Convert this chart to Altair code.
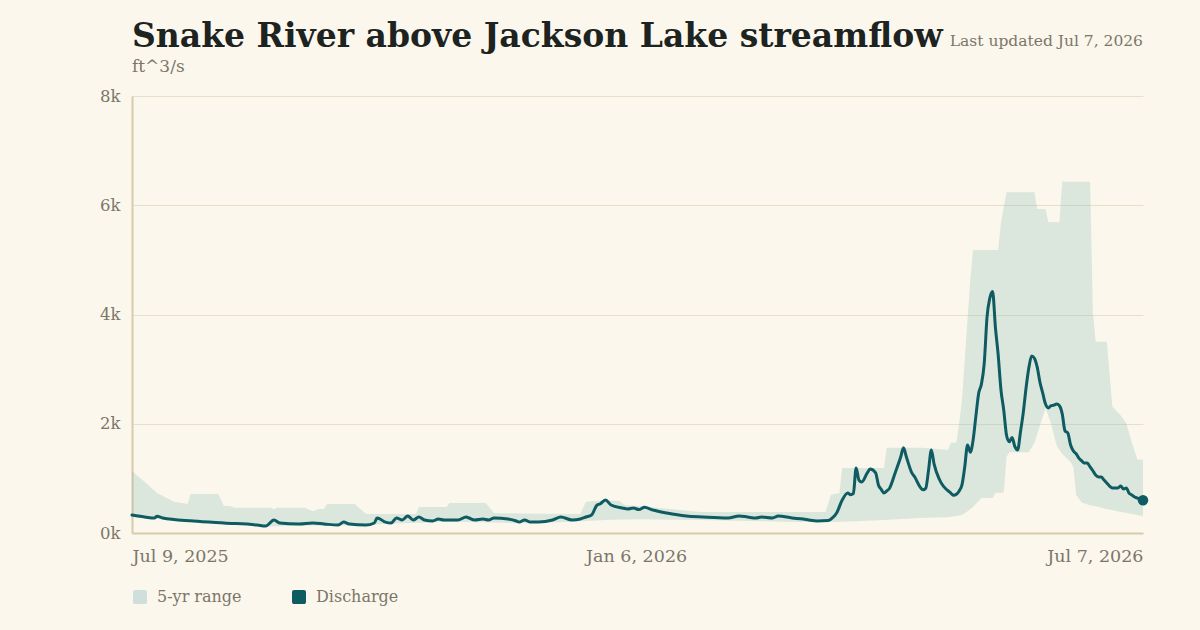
import altair as alt
import pandas as pd

START = pd.Timestamp("2025-07-09")

# Discharge (ft^3/s), keyed by days since the start of the window
flow_day = [
    0, 5, 8, 9, 11, 22, 33, 45, 48, 51, 53, 60, 65, 69, 74, 76, 78, 84, 87, 88,
    91, 93, 95, 97, 99, 101, 103, 105, 108, 110, 112, 117, 120, 121, 123, 126, 128, 130, 135, 138,
    139, 141, 143, 146, 151, 154, 158, 161, 163, 165, 167, 168, 170, 172, 176, 178, 180, 182, 184, 187,
    192, 199, 205, 214, 218, 221, 224, 226, 230, 232, 237, 241, 243, 246, 250, 251, 253, 255, 257, 258,
    259, 260, 261, 262, 264, 265, 267, 268, 269, 270, 271, 272, 274, 276, 277, 278, 280, 281, 283, 284,
    285, 286, 287, 288, 290, 294, 295, 296, 297, 298, 299, 300, 301, 302, 303, 304, 305, 306, 307, 308,
    309, 310, 311, 312, 313, 314, 315, 316, 317, 318, 319, 320, 321, 322, 323, 324, 325, 326, 327, 328,
    329, 330, 331, 332, 333, 334, 335, 336, 337, 338, 339, 340, 341, 342, 343, 344, 345, 346, 347, 348,
    349, 350, 351, 352, 353, 354, 355, 356, 357, 358, 359, 360, 361, 362, 363,
]
flow_cfs = [
    330, 290, 275, 305, 275, 220, 183, 146, 128, 238, 183, 165, 183, 165, 146, 200, 165, 146, 183, 275,
    200, 183, 275, 238, 311, 238, 293, 238, 220, 256, 238, 238, 293, 275, 238, 256, 238, 275, 256, 220,
    200, 238, 200, 200, 238, 293, 238, 256, 293, 330, 513, 531, 604, 513, 458, 440, 458, 430, 470, 421,
    366, 311, 293, 275, 311, 293, 275, 293, 275, 311, 275, 256, 238, 220, 229, 256, 366, 604, 732, 700,
    720, 1190, 970, 935, 1100, 1170, 1100, 880, 800, 732, 770, 820, 1100, 1390, 1560, 1400, 1100, 1030, 840, 790,
    820, 1150, 1520, 1260, 970, 732, 690, 710, 770, 880, 1210, 1610, 1480, 1700, 2140, 2560, 2730, 3110, 3955, 4300,
    4420, 3770, 3260, 2620, 2250, 1790, 1670, 1750, 1580, 1520, 1850, 2200, 2650, 3020, 3240, 3200, 3040, 2760, 2560, 2360,
    2290, 2330, 2340, 2360, 2330, 2180, 1870, 1830, 1610, 1500, 1450, 1370, 1320, 1280, 1280, 1210, 1140, 1060, 1025, 1025,
    970, 915, 860, 825, 825, 825, 860, 805, 825, 730, 695, 660, 640, 620, 600,
]

# Five-year range envelope (min / max), keyed the same way
band_day = [
    0, 5, 9, 15, 20, 21, 31, 33, 35, 37, 48, 50, 51, 52, 62, 65, 67, 69, 70, 80,
    84, 90, 102, 103, 110, 113, 114, 127, 130, 139, 146, 161, 163, 170, 175, 177, 182, 204, 240, 249,
    251, 254, 255, 270, 271, 283, 285, 293, 294, 296, 297, 298, 300, 301, 302, 305, 309, 310, 311, 312,
    313, 314, 315, 322, 324, 325, 328, 329, 330, 332, 333, 334, 337, 338, 339, 341, 344, 345, 346, 350,
    352, 355, 357, 359, 361, 363,
]
band_hi = [
    1135, 915, 730, 570, 530, 715, 715, 495, 495, 460, 460, 460, 430, 460, 460, 400, 440, 440, 530, 530,
    350, 350, 350, 475, 475, 475, 550, 550, 365, 355, 352, 350, 570, 600, 585, 510, 495, 385, 385, 385,
    700, 730, 1190, 1190, 1560, 1560, 1555, 1520, 1650, 1650, 2010, 2430, 3900, 4630, 5180, 5180, 5180, 5180, 5180, 5680,
    5960, 6240, 6240, 6240, 6240, 5930, 5930, 5690, 5690, 5690, 5690, 6430, 6430, 6430, 6430, 6430, 6430, 4030, 3500, 3500,
    2310, 2150, 2010, 1650, 1340, 1340,
]
band_lo = [
    290, 268, 255, 228, 208, 205, 172, 165, 160, 155, 115, 120, 122, 124, 138, 136, 134, 133, 132, 140,
    150, 165, 187, 188, 200, 203, 204, 195, 192, 180, 185, 217, 221, 240, 245, 247, 250, 240, 200, 200,
    203, 206, 207, 240, 243, 275, 280, 290, 298, 314, 322, 330, 400, 440, 480, 640, 640, 730, 735, 738,
    740, 1400, 1480, 1480, 1650, 1810, 2290, 2145, 2000, 1600, 1520, 1450, 1300, 1210, 700, 560, 510, 500, 490, 440,
    420, 385, 370, 350, 330, 310,
]

tick_dates = ["2025-07-09", "2026-01-06", "2026-07-07"]
y_ticks = [0, 2000, 4000, 6000, 8000]
legend_names = ["5-yr range", "Discharge"]

BG = "#FBF7ED"
LINE = "#0E5B62"
BAND = "#7DB5B0"
LEGEND_BAND = "#CFE0DC"
GRID = "#E8DFC9"
DOMAIN = "#D8CBAB"
MUTED = "#7B7668"
INK = "#1D2320"
SERIF = "DejaVu Serif"

flow = pd.DataFrame({
    "date": START + pd.to_timedelta(flow_day, unit="D"),
    "cfs": flow_cfs,
})
band = pd.DataFrame({
    "date": START + pd.to_timedelta(band_day, unit="D"),
    "lo": band_lo,
    "hi": band_hi,
})
latest = flow.tail(1)
keys = pd.DataFrame({"series": legend_names})
stamp = pd.DataFrame({"label": ["Last updated Jul 7, 2026"]})


def as_dt(s):
    t = pd.Timestamp(s)
    return alt.DateTime(year=t.year, month=t.month, date=t.day)


x_scale = alt.Scale(domain=[as_dt(tick_dates[0]), as_dt(tick_dates[-1])], nice=False)
y_scale = alt.Scale(domain=[0, 8000], nice=False)

x_axis = alt.Axis(
    values=[as_dt(d) for d in tick_dates], format="%b %-d, %Y", labelFlush=True,
    grid=False, ticks=False, domainColor=DOMAIN, domainWidth=2, labelPadding=14,
    labelFont=SERIF, labelFontSize=17.5, labelColor=MUTED, title=None,
)
y_axis = alt.Axis(
    values=y_ticks, labelExpr="datum.value / 1000 + 'k'", ticks=False,
    domainColor=DOMAIN, domainWidth=2, gridColor=GRID, gridWidth=1,
    labelPadding=12, labelFont=SERIF, labelFontSize=16.5, labelColor=MUTED, title=None,
)

range_area = alt.Chart(band).mark_area(color=BAND, opacity=0.25).encode(
    x=alt.X("date:T", scale=x_scale, axis=x_axis),
    y=alt.Y("lo:Q", scale=y_scale, axis=y_axis),
    y2="hi:Q",
)

flow_line = alt.Chart(flow).mark_line(
    color=LINE, strokeWidth=3, strokeJoin="round", strokeCap="round", interpolate="monotone"
).encode(x="date:T", y="cfs:Q")

end_dot = alt.Chart(latest).mark_circle(color=LINE, size=110, opacity=1).encode(
    x="date:T", y="cfs:Q"
)

rounded_square = (
    "M-0.7,-1H0.7A0.3,0.3 0 0 1 1,-0.7V0.7A0.3,0.3 0 0 1 0.7,1"
    "H-0.7A0.3,0.3 0 0 1 -1,0.7V-0.7A0.3,0.3 0 0 1 -0.7,-1Z"
)
key_layer = alt.Chart(keys).mark_square(opacity=0).encode(
    color=alt.Color(
        "series:N",
        scale=alt.Scale(domain=legend_names, range=[LEGEND_BAND, LINE]),
        legend=alt.Legend(
            title=None, orient="none", direction="horizontal", legendX=0, legendY=493,
            symbolType=rounded_square, symbolSize=196, symbolOpacity=1, symbolStrokeWidth=0,
            labelFont=SERIF, labelFontSize=16, labelColor=MUTED, labelOffset=9,
            columnPadding=49,
        ),
    )
)

stamp_text = alt.Chart(stamp).mark_text(
    align="right", baseline="alphabetic", font=SERIF, fontSize=15.5, color=MUTED
).encode(x=alt.value(1011), y=alt.value(-50), text="label:N")

chart = alt.layer(range_area, flow_line, end_dot, key_layer, stamp_text).properties(
    width=1011,
    height=437,
    autosize=alt.AutoSizeParams(type="none"),
    padding={"left": 132, "top": 96, "right": 57, "bottom": 97},
    title=alt.TitleParams(
        text="Snake River above Jackson Lake streamflow",
        subtitle="ft^3/s",
        anchor="start",
        frame="group",
        offset=-41,
        font=SERIF,
        fontSize=33,
        fontWeight="bold",
        color=INK,
        subtitleFont=SERIF,
        subtitleFontSize=17,
        subtitleColor=MUTED,
        subtitlePadding=5,
    ),
).configure(background=BG).configure_view(stroke=None)

chart.save("out.html", embed_options={"renderer": "svg", "actions": False})
